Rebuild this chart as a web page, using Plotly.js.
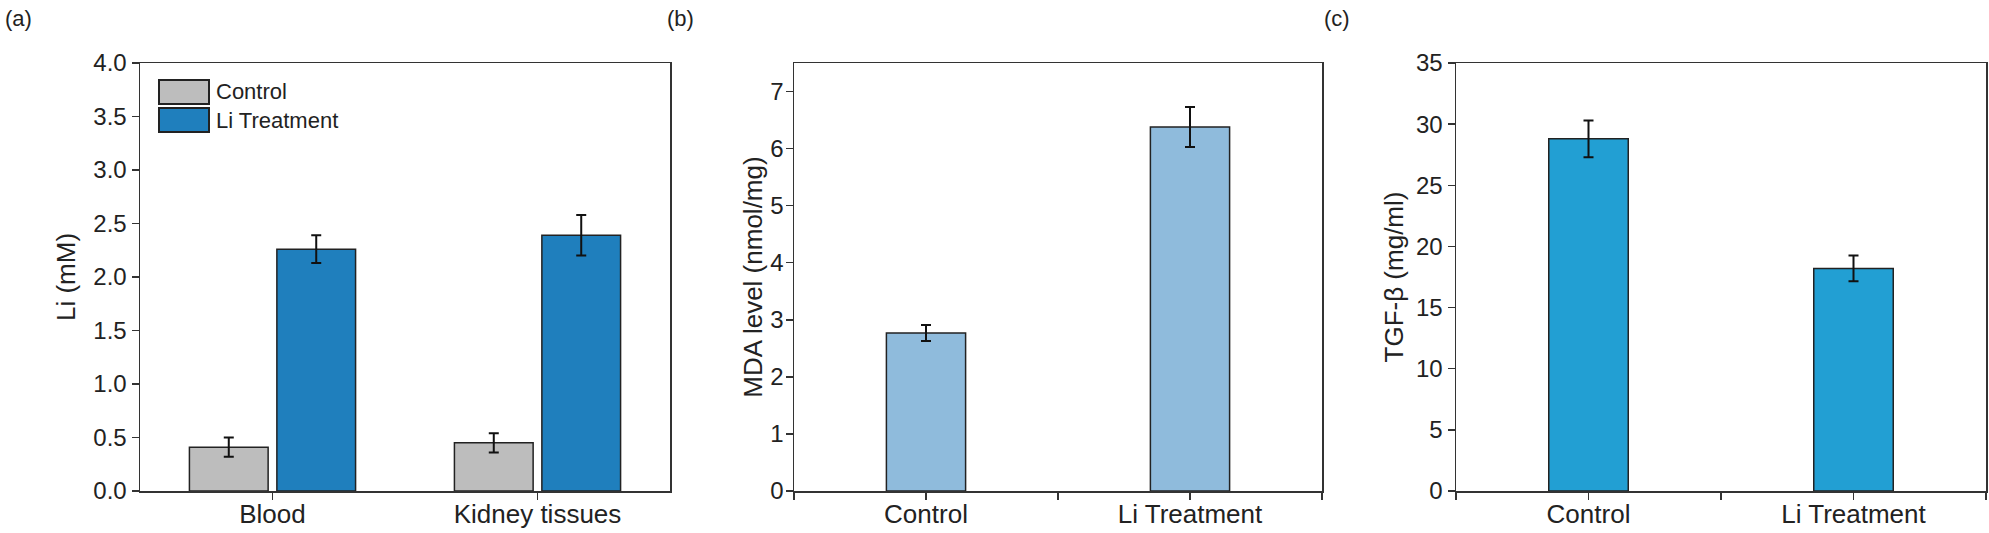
<!DOCTYPE html>
<html><head><meta charset="utf-8">
<script src="https://cdn.plot.ly/plotly-3.0.1.min.js"></script>
<style>html,body{margin:0;padding:0;background:#fff;}#chart{width:1989px;height:533px;}</style>
</head><body><div id="chart"></div>
<script>
// ---- data ----
const tissueCategories = ['Blood', 'Kidney tissues'];
const seriesNames = ['Control', 'Li Treatment'];
const liControlValues = [0.41, 0.45];
const liControlErrors = [0.09, 0.09];
const liTreatmentValues = [2.26, 2.39];
const liTreatmentErrors = [0.13, 0.19];
const groupCategories = ['Control', 'Li Treatment'];
const mdaValues = [2.77, 6.38];
const mdaErrors = [0.14, 0.35];
const tgfValues = [28.8, 18.2];
const tgfErrors = [1.5, 1.05];
const panelLabels = ['(a)', '(b)', '(c)'];
const yTitles = ['Li (mM)', 'MDA level (nmol/mg)', 'TGF-β (mg/ml)'];

// ---- styling ----
const W = 1989, H = 533;
const FONT = 'Arial, "Liberation Sans", sans-serif';
const TXT = '#222';
const AX = '#333';
const colors = { control: '#bdbdbd', li: '#1f7fbd', mda: '#8fbbdc', tgf: '#229fd3' };
const px = v => v / W;
const py = v => 1 - v / H;
const idx = arr => arr.map((_, i) => i);

const errStyle = { type: 'data', visible: true, color: '#111', thickness: 2, width: 5 };
const barLine = { color: '#222', width: 1.5 };

const traces = [
  { type: 'bar', name: seriesNames[0], x: idx(tissueCategories), y: liControlValues,
    error_y: Object.assign({ array: liControlErrors }, errStyle),
    marker: { color: colors.control, line: barLine }, xaxis: 'x', yaxis: 'y', showlegend: false },
  { type: 'bar', name: seriesNames[1], x: idx(tissueCategories), y: liTreatmentValues,
    error_y: Object.assign({ array: liTreatmentErrors }, errStyle),
    marker: { color: colors.li, line: barLine }, xaxis: 'x', yaxis: 'y', showlegend: false },
  { type: 'bar', name: 'MDA', x: idx(groupCategories), y: mdaValues, width: 0.3,
    error_y: Object.assign({ array: mdaErrors }, errStyle),
    marker: { color: colors.mda, line: barLine }, xaxis: 'x2', yaxis: 'y2', showlegend: false },
  { type: 'bar', name: 'TGF-β', x: idx(groupCategories), y: tgfValues, width: 0.3,
    error_y: Object.assign({ array: tgfErrors }, errStyle),
    marker: { color: colors.tgf, line: barLine }, xaxis: 'x3', yaxis: 'y3', showlegend: false }
];

const yDom = [py(491), py(63)];
function xAxis(domain, ticktext, yref, minor) {
  const a = {
    domain: domain, anchor: yref, range: [-0.5, 1.5],
    tickmode: 'array', tickvals: idx(ticktext), ticktext: ticktext,
    ticks: 'outside', ticklen: 7, tickwidth: 1.5, tickcolor: AX,
    showline: true, linecolor: AX, linewidth: 1.5, mirror: true,
    showgrid: false, zeroline: false, automargin: false, fixedrange: true,
    ticklabelstandoff: -8,
    tickfont: { family: FONT, size: 26, color: TXT }
  };
  if (minor) a.minor = { tick0: 0.5, dtick: 1, ticks: 'outside', ticklen: 7, tickwidth: 1.5, tickcolor: AX, showgrid: false };
  return a;
}
function yAxis(xref, range, dtick, title, fmt, standoff, labelShift) {
  return {
    domain: yDom, anchor: xref, range: range, dtick: dtick, tick0: 0, tickformat: fmt,
    ticks: 'outside', ticklen: 7, tickwidth: 1.5, tickcolor: AX,
    showline: true, linecolor: AX, linewidth: 1.5, mirror: true,
    showgrid: false, zeroline: false, automargin: false, fixedrange: true,
    ticklabelstandoff: labelShift,
    tickfont: { family: FONT, size: 24, color: TXT },
    title: { text: title, standoff: standoff, font: { family: FONT, size: 26, color: TXT } }
  };
}

const layout = {
  width: W, height: H,
  margin: { l: 0, r: 0, t: 0, b: 0, pad: 0 },
  paper_bgcolor: '#fff', plot_bgcolor: '#fff',
  barmode: 'group', bargap: 0.34, bargroupgap: 0.1,
  showlegend: false,
  font: { family: FONT, color: TXT },
  xaxis: xAxis([px(140), px(670)], tissueCategories, 'y', false),
  yaxis: yAxis('x', [0, 4], 0.5, yTitles[0], '.1f', 10, 0),
  xaxis2: xAxis([px(794), px(1322)], groupCategories, 'y2', true),
  yaxis2: yAxis('x2', [0, 7.5], 1, yTitles[1], 'd', 0, -3),
  xaxis3: xAxis([px(1456), px(1986)], groupCategories, 'y3', true),
  yaxis3: yAxis('x3', [0, 35], 5, yTitles[2], 'd', 5, 0),
  shapes: [
    { type: 'rect', xref: 'paper', yref: 'paper', x0: px(159), x1: px(209), y0: py(104), y1: py(80),
      fillcolor: colors.control, line: { color: '#222', width: 2 } },
    { type: 'rect', xref: 'paper', yref: 'paper', x0: px(159), x1: px(209), y0: py(132), y1: py(108),
      fillcolor: colors.li, line: { color: '#222', width: 2 } }
  ],
  annotations: [
    { text: seriesNames[0], xref: 'paper', yref: 'paper', x: px(214), y: py(92), xanchor: 'left', yanchor: 'middle',
      showarrow: false, font: { family: FONT, size: 22, color: TXT } },
    { text: seriesNames[1], xref: 'paper', yref: 'paper', x: px(214), y: py(120), xanchor: 'left', yanchor: 'middle',
      showarrow: false, font: { family: FONT, size: 22, color: TXT } },
    { text: panelLabels[0], xref: 'paper', yref: 'paper', x: px(3), y: py(4), xanchor: 'left', yanchor: 'top',
      showarrow: false, font: { family: FONT, size: 22, color: TXT } },
    { text: panelLabels[1], xref: 'paper', yref: 'paper', x: px(665), y: py(4), xanchor: 'left', yanchor: 'top',
      showarrow: false, font: { family: FONT, size: 22, color: TXT } },
    { text: panelLabels[2], xref: 'paper', yref: 'paper', x: px(1322), y: py(4), xanchor: 'left', yanchor: 'top',
      showarrow: false, font: { family: FONT, size: 22, color: TXT } }
  ]
};

Plotly.newPlot('chart', traces, layout, { staticPlot: true, displayModeBar: false });
</script>
</body></html>
